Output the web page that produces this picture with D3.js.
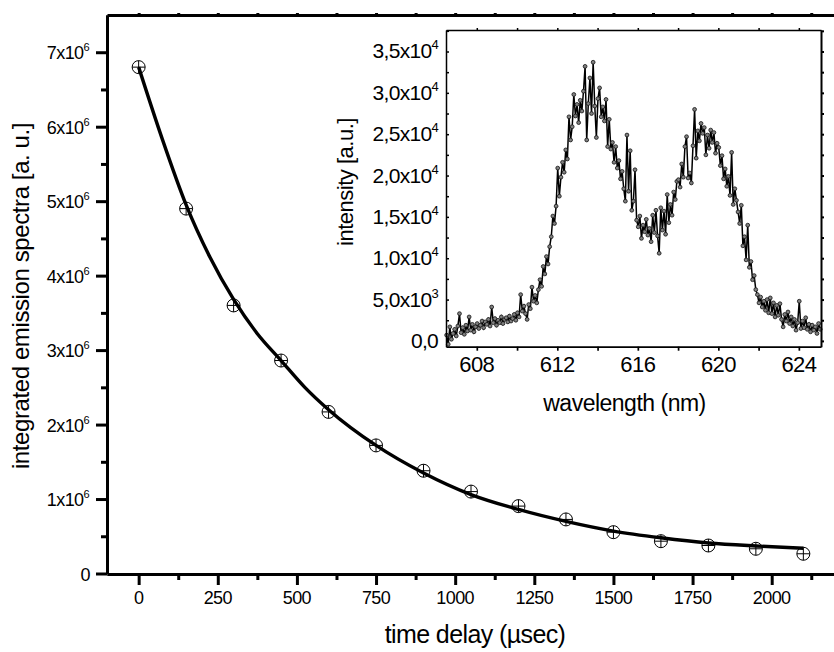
<!DOCTYPE html>
<html>
<head>
<meta charset="utf-8">
<script src="https://cdn.jsdelivr.net/npm/d3@7"></script>
<style>
    body { margin: 0; background: #fff; }
    svg text { font-family: "Liberation Sans", Arial, sans-serif; fill: #000; }
</style>
</head>
<body>
<svg id="drawing_region"></svg>
<script>
// main plot: decay of integrated emission
const delayTimes = [0, 150, 300, 450, 600, 750, 900, 1050, 1200, 1350, 1500, 1650, 1800, 1950, 2100];
const emission = [6.80e6, 4.90e6, 3.60e6, 2.86e6, 2.17e6, 1.72e6, 1.38e6, 1.10e6, 0.905e6, 0.726e6, 0.555e6, 0.434e6, 0.376e6, 0.332e6, 0.265e6];

// fitted decay curve
const fitTimes = [0, 75, 150, 225, 300, 375, 450, 525, 600, 750, 900, 1050, 1200, 1350, 1500, 1650, 1800, 1950, 2100];
const fitValues = [6.80e6, 5.83e6, 4.95e6, 4.25e6, 3.68e6, 3.22e6, 2.86e6, 2.50e6, 2.20e6, 1.72e6, 1.35e6, 1.06e6, 0.86e6, 0.70e6, 0.57e6, 0.48e6, 0.41e6, 0.37e6, 0.34e6];

const mainXTicks = [0, 250, 500, 750, 1000, 1250, 1500, 1750, 2000];
const mainYTicks = [0, 1e6, 2e6, 3e6, 4e6, 5e6, 6e6, 7e6];

// inset: emission spectrum, sampled every 0.08 nm from 606.5 nm
const wlStart = 606.5;
const wlStep = 0.08;
const intensity = [
    0.7, -0.4, 1.7, 0.2, 0.9, 1.4, 0.6, 1.8, 3.3, 1.0, 1.6, 0.8, 1.9, 1.2, 2.9, 1.3, 2.0, 1.1, 1.7,
    2.1, 1.5, 1.9, 2.4, 1.6, 2.3, 2.0, 2.6, 1.8, 4.1, 2.2, 2.7, 1.9, 2.5, 2.2, 2.9, 2.1, 2.6, 2.8, 2.3, 3.0, 2.4, 2.7, 3.2, 2.5,
    3.4, 2.9, 5.6, 3.6, 4.2, 3.3, 2.6, 4.4, 3.9, 6.5, 4.8, 5.5, 4.6,
    6.2, 7.4, 6.6, 9.0, 8.1, 10.2, 9.3, 11.4, 12.6, 15.1, 14.2, 16.3,
    20.9, 17.5, 19.8, 21.6, 20.4, 23.1, 22.0, 27.1, 24.3, 25.9, 29.8, 27.2, 28.6,
    26.4, 29.1, 27.8, 30.2, 33.2, 24.3, 28.7, 31.8, 27.5, 33.7, 28.4, 24.6, 29.3, 30.6, 27.1, 28.3, 26.6, 29.2,
    23.5, 26.8, 23.2, 24.0, 21.6, 23.5, 20.9, 21.8, 19.6, 20.5, 18.4, 16.9, 24.9, 18.1, 23.0, 15.8, 16.9, 20.7, 14.6,
    13.8, 15.1, 12.4, 14.0, 13.2, 14.7, 12.8, 13.6, 12.0, 15.2, 13.1, 15.8, 12.7, 10.6, 16.1, 13.4, 15.7, 12.9,
    17.7, 14.3, 16.5, 15.2, 18.0, 17.1, 19.3, 19.5, 18.6, 21.4, 19.8, 23.5, 24.7,
    19.7, 20.3, 19.1, 23.6, 28.0, 22.1, 25.4, 24.2, 26.3, 25.1, 25.8, 22.5, 24.9, 23.3, 25.5, 24.0, 25.2, 22.7, 23.9, 23.4,
    21.2, 22.4, 19.6, 20.8, 18.7, 19.9, 17.6, 22.8, 16.5, 18.4, 17.0, 15.6,
    14.2, 16.4, 11.5, 12.6, 9.8, 14.0, 8.9, 9.6, 7.4, 7.9, 6.2, 5.6,
    4.6, 5.3, 4.1, 4.8, 3.7, 5.0, 3.4, 5.2, 3.3, 4.6, 2.9, 4.3, 3.1, 4.5, 2.6, 1.7, 3.2, 2.4, 3.5, 2.1,
    2.9, 1.8, 2.6, 1.3, 2.2, 4.8, 1.5, 2.4, 1.6, 2.8, 1.4, 2.0, 1.1, 1.9, 1.3, 1.7, 0.9, 2.1, 1.4
]; // x10^3

const insetXTicks = [608, 612, 616, 620, 624];
const insetYTicks = [0, 5000, 10000, 15000, 20000, 25000, 30000, 35000];
const insetYBase = ["0,0", "5,0x10", "1,0x10", "1,5x10", "2,0x10", "2,5x10", "3,0x10", "3,5x10"];
const insetYExp = ["", "3", "4", "4", "4", "4", "4", "4"];

const width = 834;
const height = 652;

const svg = d3.select('#drawing_region')
    .attr('width', width)
    .attr('height', height);

// ---------- main plot ----------
const x = d3.scaleLinear().domain([-100, 2200]).range([107, 835]);
const y = d3.scaleLinear().domain([0, 7.5e6]).range([573.5, 15]);

const minorX = d3.range(125, 2200, 250);
const minorY = d3.range(0.5e6, 7.5e6, 1e6);

function styleAxis(g, w) {
    g.selectAll('path').attr('stroke', '#000').attr('stroke-width', w);
    g.selectAll('line').attr('stroke', '#000').attr('stroke-width', w);
    g.selectAll('text').remove();
}

// top border
svg.append('g')
    .attr('transform', 'translate(0,15)')
    .call(d3.axisTop(x).tickValues(d3.range(0, 2200, 125)).tickSize(2).tickSizeOuter(0))
    .call(g => styleAxis(g, 3));

// bottom axis
svg.append('g')
    .attr('transform', 'translate(0,574)')
    .call(d3.axisBottom(x).tickValues(minorX).tickSize(6).tickSizeOuter(0))
    .call(g => styleAxis(g, 3));
svg.append('g')
    .attr('transform', 'translate(0,574)')
    .call(d3.axisBottom(x).tickValues(mainXTicks).tickSize(11).tickSizeOuter(0))
    .call(g => styleAxis(g, 3));

// left axis
svg.append('g')
    .attr('transform', 'translate(107,0)')
    .call(d3.axisLeft(y).tickValues(minorY).tickSize(6).tickSizeOuter(0))
    .call(g => styleAxis(g, 3));
svg.append('g')
    .attr('transform', 'translate(107,0)')
    .call(d3.axisLeft(y).tickValues(mainYTicks).tickSize(11).tickSizeOuter(0))
    .call(g => styleAxis(g, 3));

// tick labels
svg.append('g').selectAll('text')
    .data(mainXTicks)
    .enter()
    .append('text')
    .attr('x', d => x(d))
    .attr('y', 604)
    .attr('text-anchor', 'middle')
    .style('font-size', '18px')
    .style('letter-spacing', '-0.6px')
    .text(d => d);

const yLabels = svg.append('g').selectAll('text')
    .data(mainYTicks)
    .enter()
    .append('text')
    .attr('x', d => d === 0 ? 90 : 89)
    .attr('y', d => y(d) + 7)
    .attr('text-anchor', 'end')
    .style('font-size', '18px')
    .style('letter-spacing', '-0.6px');
yLabels.append('tspan').text(d => d === 0 ? '0' : (d / 1e6) + 'x10');
yLabels.filter(d => d !== 0).append('tspan')
    .attr('dy', -8)
    .style('font-size', '11px')
    .text('6');

// axis titles
svg.append('text')
    .attr('x', 475)
    .attr('y', 643)
    .attr('text-anchor', 'middle')
    .style('font-size', '25px')
    .style('letter-spacing', '-0.6px')
    .text('time delay (\u00b5sec)');

svg.append('text')
    .attr('transform', 'translate(28.5,296) rotate(-90)')
    .attr('text-anchor', 'middle')
    .style('font-size', '24px')
    .style('letter-spacing', '-0.4px')
    .text('integrated emission spectra [a. u.]');

// fit curve
const fitData = fitTimes.map((t, i) => ({ t: t, v: fitValues[i] }));
const line = d3.line()
    .x(d => x(d.t))
    .y(d => y(d.v))
    .curve(d3.curveMonotoneX);

svg.append('path')
    .datum(fitData)
    .attr('d', line)
    .attr('fill', 'none')
    .attr('stroke', '#000')
    .attr('stroke-width', 3.4);

// markers: circle with cross
const pts = delayTimes.map((t, i) => ({ t: t, v: emission[i] }));
const r = 6.5;
const marks = svg.append('g').selectAll('g')
    .data(pts)
    .enter()
    .append('g')
    .attr('transform', d => `translate(${x(d.t)},${y(d.v)})`);
marks.append('circle')
    .attr('r', r)
    .attr('fill', 'none')
    .attr('stroke', '#000')
    .attr('stroke-width', 1);
marks.append('line')
    .attr('x1', -r).attr('x2', r)
    .attr('stroke', '#000').attr('stroke-width', 1);
marks.append('line')
    .attr('y1', -r).attr('y2', r)
    .attr('stroke', '#000').attr('stroke-width', 1);

// ---------- inset ----------
const ix = d3.scaleLinear().domain([606.47, 625.1]).range([446, 821]);
const iy = d3.scaleLinear().domain([-700, 37600]).range([346.7, 30]);

const inset = svg.append('g');

inset.append('rect')
    .attr('x', 446).attr('y', 30)
    .attr('width', 821 - 446).attr('height', 346.7 - 30)
    .attr('fill', '#fff');

const specData = intensity.map((v, i) => ({ wl: wlStart + i * wlStep, v: v * 1000 }));

inset.append('path')
    .datum(specData)
    .attr('d', d3.line().x(d => ix(d.wl)).y(d => iy(d.v)))
    .attr('fill', 'none')
    .attr('stroke', '#000')
    .attr('stroke-width', 1.5);

inset.append('g').selectAll('circle')
    .data(specData)
    .enter()
    .append('circle')
    .attr('cx', d => ix(d.wl))
    .attr('cy', d => iy(d.v))
    .attr('r', 1.9)
    .attr('fill', '#808080')
    .attr('stroke', '#111')
    .attr('stroke-width', 0.8);

const insetMinorY = d3.range(0, 37600, 2500);
const insetMinorX = d3.range(608, 625.1, 2);

inset.append('g')
    .attr('transform', 'translate(446,0)')
    .call(d3.axisLeft(iy).tickValues(insetMinorY).tickSize(-3).tickSizeOuter(0))
    .call(g => styleAxis(g, 1.5));
inset.append('g')
    .attr('transform', 'translate(821,0)')
    .call(d3.axisRight(iy).tickValues(insetMinorY).tickSize(3).tickSizeOuter(0))
    .call(g => styleAxis(g, 2));
inset.append('g')
    .attr('transform', 'translate(0,346.7)')
    .call(d3.axisBottom(ix).tickValues(insetMinorX).tickSize(4).tickSizeOuter(0))
    .call(g => styleAxis(g, 1.7));
inset.append('g')
    .attr('transform', 'translate(0,30)')
    .call(d3.axisTop(ix).tickValues(insetMinorX).tickSize(2).tickSizeOuter(0))
    .call(g => styleAxis(g, 1.5));

inset.append('g').selectAll('text')
    .data(insetXTicks)
    .enter()
    .append('text')
    .attr('x', d => ix(d))
    .attr('y', 372)
    .attr('text-anchor', 'middle')
    .style('font-size', '22px')
    .style('letter-spacing', '-0.6px')
    .text(d => d);

const iyLabels = inset.append('g').selectAll('text')
    .data(insetYTicks)
    .enter()
    .append('text')
    .attr('x', 438)
    .attr('y', d => iy(d) + 7)
    .attr('text-anchor', 'end')
    .style('font-size', '21px')
    .style('letter-spacing', '-0.7px');
iyLabels.append('tspan').text((d, i) => insetYBase[i]);
iyLabels.filter((d, i) => insetYExp[i] !== '').append('tspan')
    .attr('dy', -9)
    .style('font-size', '13px')
    .text(d => insetYExp[insetYTicks.indexOf(d)]);

inset.append('text')
    .attr('x', 624.5)
    .attr('y', 411)
    .attr('text-anchor', 'middle')
    .style('font-size', '23px')
    .style('letter-spacing', '-0.5px')
    .text('wavelength (nm)');

inset.append('text')
    .attr('transform', 'translate(353,182) rotate(-90)')
    .attr('text-anchor', 'middle')
    .style('font-size', '22px')
    .style('letter-spacing', '-0.5px')
    .text('intensity [a.u.]');
</script>
</body>
</html>
